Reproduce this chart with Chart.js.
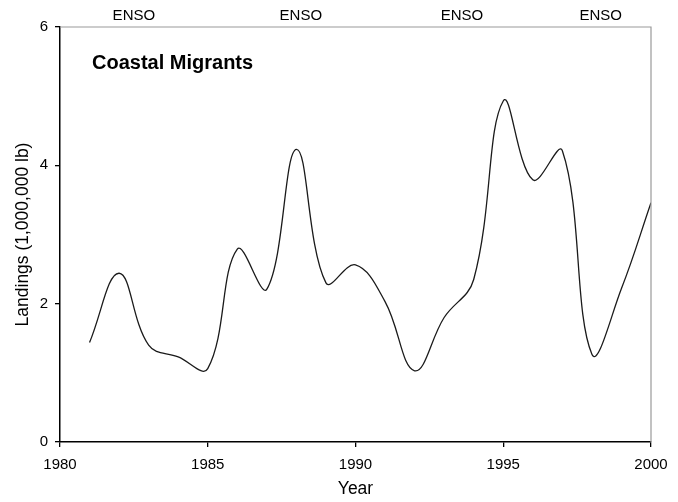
<!DOCTYPE html>
<html>
<head>
<meta charset="utf-8">
<script src="https://cdn.jsdelivr.net/npm/chart.js@4.4.1/dist/chart.umd.min.js"></script>
<style>
  html, body { margin: 0; padding: 0; background: #fff; }
  #wrap { width: 678px; height: 502px; }
</style>
</head>
<body>
<div id="wrap"><canvas id="myChart" width="678" height="502"></canvas></div>
<script>
// data
const years = [1981, 1982, 1983, 1984, 1985, 1986, 1987, 1988, 1989, 1990,
               1991, 1992, 1993, 1994, 1995, 1996, 1997, 1998, 1999, 2000];
const landings = [1.44, 2.44, 1.40, 1.23, 1.06, 2.79, 2.21, 4.23, 2.30, 2.56,
                  2.03, 1.03, 1.80, 2.35, 4.93, 3.79, 4.21, 1.27, 2.22, 3.46];
const ensoYears = [1982.5, 1988.15, 1993.6, 1998.3];
const ensoLabel = "ENSO";
const panelTitle = "Coastal Migrants";
const xTicks = [1980, 1985, 1990, 1995, 2000];
const yTicks = [0, 2, 4, 6];

const FONT = "'Liberation Sans', Arial, sans-serif";

// frame on top/right, ENSO labels, and panel title
const extras = {
  id: "extras",
  afterDatasetsDraw(chart) {
    const { ctx, chartArea, scales } = chart;
    ctx.save();
    ctx.strokeStyle = "#9a9a9a";
    ctx.lineWidth = 1.2;
    ctx.beginPath();
    ctx.moveTo(chartArea.left, chartArea.top);
    ctx.lineTo(chartArea.right, chartArea.top);
    ctx.lineTo(chartArea.right, chartArea.bottom);
    ctx.stroke();

    ctx.fillStyle = "#000";
    ctx.font = "15px " + FONT;
    ctx.textAlign = "center";
    ctx.textBaseline = "middle";
    ensoYears.forEach((yr) => {
      ctx.fillText(ensoLabel, scales.x.getPixelForValue(yr), 16);
    });

    ctx.font = "bold 20px " + FONT;
    ctx.textAlign = "left";
    ctx.textBaseline = "alphabetic";
    ctx.fillText(panelTitle, chartArea.left + 32, chartArea.top + 42);
    ctx.restore();
  },
};

const ctx = document.getElementById("myChart").getContext("2d");
new Chart(ctx, {
  type: "line",
  data: {
    datasets: [
      {
        label: "Landings",
        data: years.map((y, i) => ({ x: y, y: landings[i] })),
        borderColor: "#1a1a1a",
        borderWidth: 1.3,
        pointRadius: 0,
        tension: 0.4,
        fill: false,
      },
    ],
  },
  options: {
    responsive: false,
    animation: false,
    layout: { padding: { top: 27, right: 27, left: 0, bottom: 0 } },
    plugins: {
      legend: { display: false },
      tooltip: { enabled: false },
    },
    scales: {
      x: {
        type: "linear",
        min: 1980,
        max: 2000,
        afterBuildTicks: (scale) => {
          scale.ticks = xTicks.map((v) => ({ value: v }));
        },
        ticks: {
          color: "#000",
          font: { family: FONT, size: 15 },
          padding: 9,
          maxRotation: 0,
          callback: (v) => String(v),
        },
        grid: { drawOnChartArea: false, drawTicks: true, tickLength: 5, color: "#000", lineWidth: 1.3 },
        border: { display: true, color: "#000", width: 1.5 },
        title: {
          display: true,
          text: "Year",
          color: "#000",
          font: { family: FONT, size: 17.5 },
          padding: { top: 0, bottom: 2 },
        },
        afterFit: (scale) => { scale.height = 60; },
      },
      y: {
        min: 0,
        max: 6,
        afterBuildTicks: (scale) => {
          scale.ticks = yTicks.map((v) => ({ value: v }));
        },
        ticks: {
          color: "#000",
          font: { family: FONT, size: 15 },
          padding: 7,
        },
        grid: { drawOnChartArea: false, drawTicks: true, tickLength: 5, color: "#000", lineWidth: 1.3 },
        border: { display: true, color: "#000", width: 1.5 },
        title: {
          display: true,
          text: "Landings (1,000,000 lb)",
          color: "#000",
          font: { family: FONT, size: 17.5 },
          padding: { top: 13, bottom: 0 },
        },
        afterFit: (scale) => { scale.width = 60; },
      },
    },
  },
  plugins: [extras],
});
</script>
</body>
</html>
